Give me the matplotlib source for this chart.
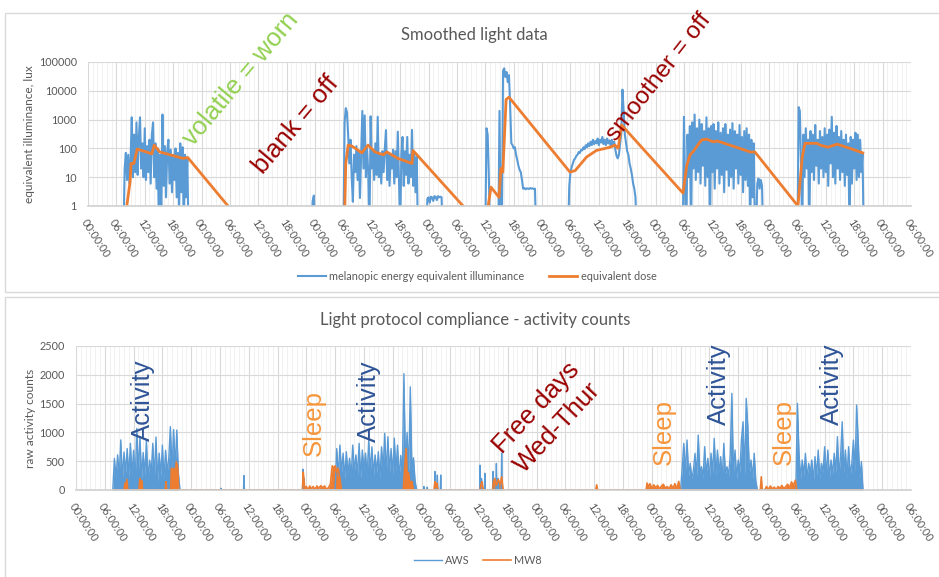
import numpy as np
import matplotlib.pyplot as plt
from matplotlib.patches import Rectangle
from matplotlib.ticker import NullLocator

plt.rcParams['font.family'] = ['Lato', 'DejaVu Sans']

BLUE = '#5B9BD5'
ORANGE = '#ED7D31'
GREY = '#595959'
GRID = '#D9D9D9'

# time axis: hours counted from 00:00 on the first day
tick_hours = list(range(0, 175, 6))
tick_labels = ['%02d:00:00' % (h % 24) for h in tick_hours]

# ---- smoothed light data ----
# melanopic EDI (lux), 15 minute samples; each run starts at the hour in light_starts
light_starts = [7.75, 47.5, 54.25, 71.75, 84.25, 101.75, 126.0, 141.5, 150.25]
light_day1 = [20, 70, 8, 60, 6, 40, 1200, 10, 300, 15, 800, 12, 250, 1200, 20, 150, 10, 500,
              8, 120, 15, 200, 6, 300, 800, 10, 150, 4, 100, 0.1, 60, 0.5, 1500, 5, 120, 2, 80,
              200, 6, 90, 3, 60, 8, 100, 2, 70, 0.5, 150, 3, 110, 0.1, 60, 2, 50]
light_blip = [1.5, 2.3]
light_day2 = [800, 2500, 1800, 300, 30, 200, 10, 1.4, 60, 15, 120, 8, 80, 1.9, 60, 2000, 20,
              1400, 10, 100, 15, 0.1, 1300, 20, 90, 8, 150, 12, 1250, 10, 60, 6, 80, 15, 100,
              430, 8, 70, 5, 60, 20, 90, 6, 80, 10, 380, 8, 0.1, 60, 250, 5, 80, 12, 250, 6, 60,
              10, 440, 5, 70, 3, 50]
light_day2_tail = [1.8, 2.0, 1.3, 2.1, 2.0, 1.5, 2.2, 2.1, 1.6, 2.2, 2.0, 2.1, 2.0]
light_day3 = [500, 300, 10, 0.1, 0.1, 0.1, 0.1, 0.1, 0.1, 0.1, 0.1, 2000, 0.1, 0.1, 50000,
              60000, 30000, 45000, 20000, 35000, 3000, 150, 130, 100, 110, 60, 40, 25, 18, 15, 8,
              4, 4.2, 3.8, 4.1, 4.0, 3.9, 4.2, 4.0, 4.1, 3.9, 4.0]
light_day4 = [5, 15, 22, 30, 40, 45, 55, 60, 75, 70, 90, 85, 110, 95, 130, 110, 150, 120, 170,
              130, 200, 140, 180, 150, 220, 130, 200, 160, 250, 140, 200, 130, 220, 150, 190,
              120, 200, 130, 170, 90, 55, 45, 60, 150, 350, 11000, 2000, 300, 150, 80, 60, 30,
              20, 12, 6, 4, 2]
light_day5 = [1250, 5, 0.1, 300, 10, 600, 0.1, 800, 20, 1500, 8, 500, 15, 1000, 6, 700, 25, 400,
              5, 1200, 10, 500, 0.1, 600, 15, 700, 4, 400, 20, 800, 6, 350, 12, 500, 3, 700, 18,
              300, 5, 450, 10, 750, 4, 400, 20, 300, 6, 650, 12, 250, 3, 400, 8, 500, 5, 300,
              0.1, 200, 2, 150, 0.1]
light_day5_tail = [6, 9, 4, 8, 5]
light_day6 = [2700, 2000, 30, 0.1, 300, 10, 500, 20, 200, 0.1, 400, 15, 300, 8, 650, 25, 200, 6,
              400, 20, 250, 10, 500, 15, 300, 5, 450, 30, 1250, 10, 350, 6, 600, 20, 250, 8, 400,
              15, 200, 5, 300, 12, 150, 0.1, 250, 6, 200, 20, 350, 8, 300, 10, 200, 15, 70]
light_runs = [light_day1, light_blip, light_day2, light_day2_tail, light_day3, light_day4,
              light_day5, light_day5_tail, light_day6]

# equivalent dose (lux), corner points of the line
dose_hours = [8.2, 8.9, 9.1, 9.7, 10.4, 13.5, 14.0, 15.2, 20.1, 21.1, 29.6, None,
              54.3, 54.5, 55.0, 55.8, 57.9, 59.2, 60.7, 62.4, 63.2, 65.5, 68.5, 68.7, 79.3, None,
              84.6, 85.2, 86.9, 87.3, 87.7, 88.4, 89.0, 101.9, 103.0, 105.4, 107.5, 110.4, 111.4,
              112.1, 112.8, 125.8, 126.6, 127.3, 128.0, 129.7, 130.8, 132.1, 133.1, 135.1, 137.8,
              140.0, 141.0, 150.1, 151.0, 151.6, 154.1, 154.8, 156.4, 158.4, 161.1, 163.8]
dose_lux = [1, 7, 30, 30, 95, 65, 130, 75, 45, 48, 1, None,
            1, 30, 130, 120, 70, 130, 75, 60, 75, 45, 30, 85, 1, None,
            1, 4.5, 2, 20, 15, 5000, 6000, 15, 17, 50, 85, 110, 130, 100, 650, 2.8, 26, 60, 80,
            195, 210, 170, 180, 140, 100, 75, 75, 1, 50, 150, 150, 130, 110, 140, 100, 70]

# ---- activity counts ----
# AWS, 20 minute samples on the busy days
aws_starts = [8.0, 54.33, 126.33, 150.33]
aws_day1 = [550, 200, 610, 250, 870, 180, 660, 300, 720, 220, 810, 260, 690, 150, 1070, 300, 920,
            200, 650, 250, 870, 180, 520, 280, 810, 200, 920, 150, 640, 240, 780, 200, 690, 300,
            560, 1100, 350, 1050, 400, 1040, 300]
aws_day2 = [720, 250, 780, 300, 640, 200, 665, 280, 550, 220, 780, 300, 610, 250, 810, 200, 695,
            350, 640, 230, 870, 300, 750, 250, 610, 300, 665, 200, 750, 350, 985, 280, 925, 300,
            720, 250, 900, 320, 780, 200, 600, 250, 2020, 400, 1000, 300, 1790, 350, 560, 150]
aws_day5 = [405, 810, 300, 868, 250, 463, 200, 347, 637, 250, 955, 300, 405, 200, 752, 280, 550,
            200, 640, 300, 897, 250, 694, 300, 579, 200, 810, 280, 405, 250, 600, 1678, 300, 694,
            200, 521, 300, 868, 1186, 250, 1591, 1099, 300, 521, 200, 637, 150]
aws_day6 = [1504, 637, 200, 521, 250, 637, 200, 463, 300, 521, 150, 579, 250, 694, 200, 463, 300,
            752, 250, 694, 200, 521, 280, 637, 300, 926, 250, 600, 1186, 300, 694, 200, 752, 250,
            463, 868, 300, 1475, 868, 200, 492]
aws_runs = [aws_day1, aws_day2, aws_day5, aws_day6]
# isolated AWS readings between the busy days
aws_blip_hours = [30.2, 35.0, 47.3, 47.5, 72.5, 73.2, 74.8, 75.3, 76.0, 84.2, 84.5, 85.2, 86.9,
                  87.6, 88.0, 88.7]
aws_blip_counts = [30, 250, 360, 200, 60, 50, 320, 260, 260, 430, 200, 290, 320, 460, 200, 640]

# MW8, corner points of the line
mw8_hours = [7.7, 10.0, 10.2, 10.4, 10.6, 10.8, 13.1, 13.3, 13.5, 13.7, 13.9, 18.6, 18.75, 18.9,
             19.7, 19.9, 20.1, 20.4, 20.6, 20.9, 21.2, 21.4,
             47.2, 47.35, 47.5, 47.7, 48.0, 48.3, 48.7, 49.0, 49.4, 49.8, 50.2, 50.6, 51.0, 51.4,
             51.8, 52.2, 52.6, 53.0, 53.4, 53.7, 54.0, 54.3, 54.6, 55.0, 55.3,
             68.2, 68.5, 68.8, 69.0, 69.3, 69.6, 70.0, 70.3, 74.6, 74.8, 75.0, 75.2, 75.4,
             84.2, 84.4, 84.6, 84.8, 85.0, 86.8, 87.0, 87.3, 87.6, 88.0, 88.4, 88.7, 89.0,
             108.3, 108.5, 108.7,
             118.8, 119.0, 119.3, 119.6, 120.0, 120.4, 120.8, 121.2, 121.6, 122.0, 122.4, 122.8,
             123.2, 123.6, 124.0, 124.4, 124.8, 125.2, 125.6, 125.9,
             142.6, 142.8, 143.0,
             143.5, 143.9, 144.3, 144.7, 145.1, 145.5, 145.9, 146.3, 146.7, 147.1, 147.5, 147.9,
             148.3, 148.7, 149.1, 149.5, 149.9, 150.2,
             164.0]
mw8_counts = [0, 0, 120, 30, 185, 0, 0, 200, 60, 160, 0, 0, 145, 0, 0, 380, 250, 375, 200, 490,
              400, 0,
              0, 310, 180, 0, 60, 0, 70, 20, 60, 10, 70, 30, 75, 40, 70, 10, 40, 100, 420, 380,
              420, 300, 380, 200, 0,
              0, 400, 720, 250, 300, 120, 150, 0, 0, 145, 40, 120, 0,
              0, 100, 145, 30, 0, 0, 150, 200, 80, 180, 100, 230, 0,
              0, 90, 0,
              0, 120, 50, 110, 30, 90, 40, 80, 20, 70, 100, 30, 60, 20, 90, 30, 110, 20, 150, 0,
              0, 230, 0,
              0, 60, 10, 70, 20, 50, 10, 60, 30, 80, 20, 60, 100, 40, 140, 80, 170, 0,
              0]


def light_line(starts, runs, step=0.25):
    # each run drops to the axis at both ends, runs are not joined
    xs, ys = [], []
    for s, vals in zip(starts, runs):
        t = s + step * np.arange(len(vals))
        xs += [s - step, *t, t[-1] + step, np.nan]
        ys += [0.1, *vals, 0.1, np.nan]
    return np.array(xs), np.array(ys)


def count_line(starts, runs, blip_h, blip_c, step=1 / 3):
    # runs and single readings sit on a zero baseline
    xs, ys = [], []
    for s, vals in zip(starts, runs):
        t = s + step * np.arange(len(vals))
        xs += [s - step, *t, t[-1] + step]
        ys += [0, *vals, 0]
    for h, c in zip(blip_h, blip_c):
        xs += [h - 0.1, h, h + 0.1]
        ys += [0, c, 0]
    xs, ys = np.array(xs), np.array(ys)
    order = np.argsort(xs, kind='stable')
    return xs[order], ys[order]


def style(ax):
    for s in ['top', 'right', 'left']:
        ax.spines[s].set_visible(False)
    ax.spines['bottom'].set_color('#D0D0D0')
    ax.spines['bottom'].set_linewidth(1.2)
    ax.set_xlim(0, 174)
    ax.set_xticks(tick_hours)
    ax.set_xticklabels(tick_labels, rotation=-57, ha='left', va='top', rotation_mode='anchor')
    ax.set_xticks(np.arange(0, 175, 1), minor=True)
    ax.grid(which='major', color=GRID, lw=0.8)
    ax.grid(which='minor', axis='x', color='#EFEFEF', lw=0.6)
    ax.tick_params(which='both', length=0, labelsize=7.8, labelcolor=GREY)
    ax.tick_params(axis='x', pad=8)
    ax.tick_params(axis='y', pad=8)
    ax.set_axisbelow(True)


fig = plt.figure(figsize=(9.39, 5.77), dpi=100)

# chart frames
fig.patches.append(Rectangle((5 / 939, 1 - 292 / 577), 1, 279 / 577, transform=fig.transFigure,
                             fill=False, edgecolor=GRID, lw=1))
fig.patches.append(Rectangle((5 / 939, -0.01), 1, 1 - 297 / 577 + 0.01, transform=fig.transFigure,
                             fill=False, edgecolor=GRID, lw=1))

# top: smoothed light data
ax1 = fig.add_axes([88 / 939, 1 - 206 / 577, 823 / 939, 144 / 577])
lx, ly = light_line(light_starts, light_runs)
ax1.plot(lx, ly, color=BLUE, lw=1.5, label='melanopic energy equivalent illuminance')
ax1.plot(np.array(dose_hours, dtype=float), np.array(dose_lux, dtype=float), color=ORANGE,
         lw=2.0, label='equivalent dose')
ax1.set_yscale('log')
ax1.set_ylim(1, 100000)
ax1.set_yticks([1, 10, 100, 1000, 10000, 100000])
ax1.set_yticklabels(['1', '10', '100', '1000', '10000', '100000'])
ax1.yaxis.set_minor_locator(NullLocator())
style(ax1)
fig.legend(*ax1.get_legend_handles_labels(), loc='center', bbox_to_anchor=(0.508, 1 - 276 / 577),
           ncol=2, frameon=False, fontsize=7.8, labelcolor=GREY, handlelength=2.6,
           columnspacing=2.3, handletextpad=0.3)
fig.text(0.505, 1 - 35 / 577, 'Smoothed light data', ha='center', va='center', fontsize=12,
         color=GREY)
fig.text(30 / 939, 1 - 134 / 577, 'equivalent illuminance, lux', rotation=90, ha='center',
         va='center', fontsize=8.6, color=GREY)

# bottom: activity counts
ax2 = fig.add_axes([76 / 939, 1 - 490 / 577, 835 / 939, 144 / 577])
ax_, ay_ = count_line(aws_starts, aws_runs, aws_blip_hours, aws_blip_counts)
ax2.plot(ax_, ay_, color=BLUE, lw=1.0, label='AWS')
ax2.fill_between(ax_, ay_, color=BLUE, lw=0)
ax2.plot(mw8_hours, mw8_counts, color=ORANGE, lw=1.2, label='MW8')
ax2.fill_between(mw8_hours, mw8_counts, color=ORANGE, lw=0)
ax2.set_ylim(0, 2500)
ax2.set_yticks(range(0, 2501, 500))
style(ax2)
fig.legend(*ax2.get_legend_handles_labels(), loc='center', bbox_to_anchor=(0.509, 1 - 560 / 577),
           ncol=2, frameon=False, fontsize=7.8, labelcolor=GREY, handlelength=2.6,
           columnspacing=1.2, handletextpad=0.3)
fig.text(0.506, 1 - 320 / 577, 'Light protocol compliance - activity counts', ha='center',
         va='center', fontsize=12, color=GREY)
fig.text(30 / 939, 1 - 418 / 577, 'raw activity counts', rotation=90, ha='center', va='center',
         fontsize=8.6, color=GREY)

# annotations
ann = dict(ha='center', va='center', fontsize=18.5, family=['Liberation Sans', 'DejaVu Sans'],
           zorder=5)
fig.text(241 / 939, 1 - 79 / 577, 'volatile = worn', rotation=50, color='#92D050', **ann)
fig.text(296 / 939, 1 - 125 / 577, 'blank = off', rotation=50, color='#990000', **ann)
fig.text(659 / 939, 1 - 77 / 577, 'smoother = off', rotation=52, color='#990000',
         **{**ann, 'fontsize': 17.5})
for x, y in [(143, 400), (369, 401), (719, 384), (832, 384)]:
    fig.text(x / 939, 1 - y / 577, 'Activity', rotation=90, color='#2F5597', **ann)
for x, y in [(314, 423), (664, 432), (784, 432)]:
    fig.text(x / 939, 1 - y / 577, 'Sleep', rotation=90, color='#F6963C', **ann)
fig.text(547 / 939, 1 - 418 / 577, 'Free days\nWed-Thur', rotation=47, color='#990000',
         multialignment='center', linespacing=1.25, **ann)

fig.savefig('out.png', dpi=100)
